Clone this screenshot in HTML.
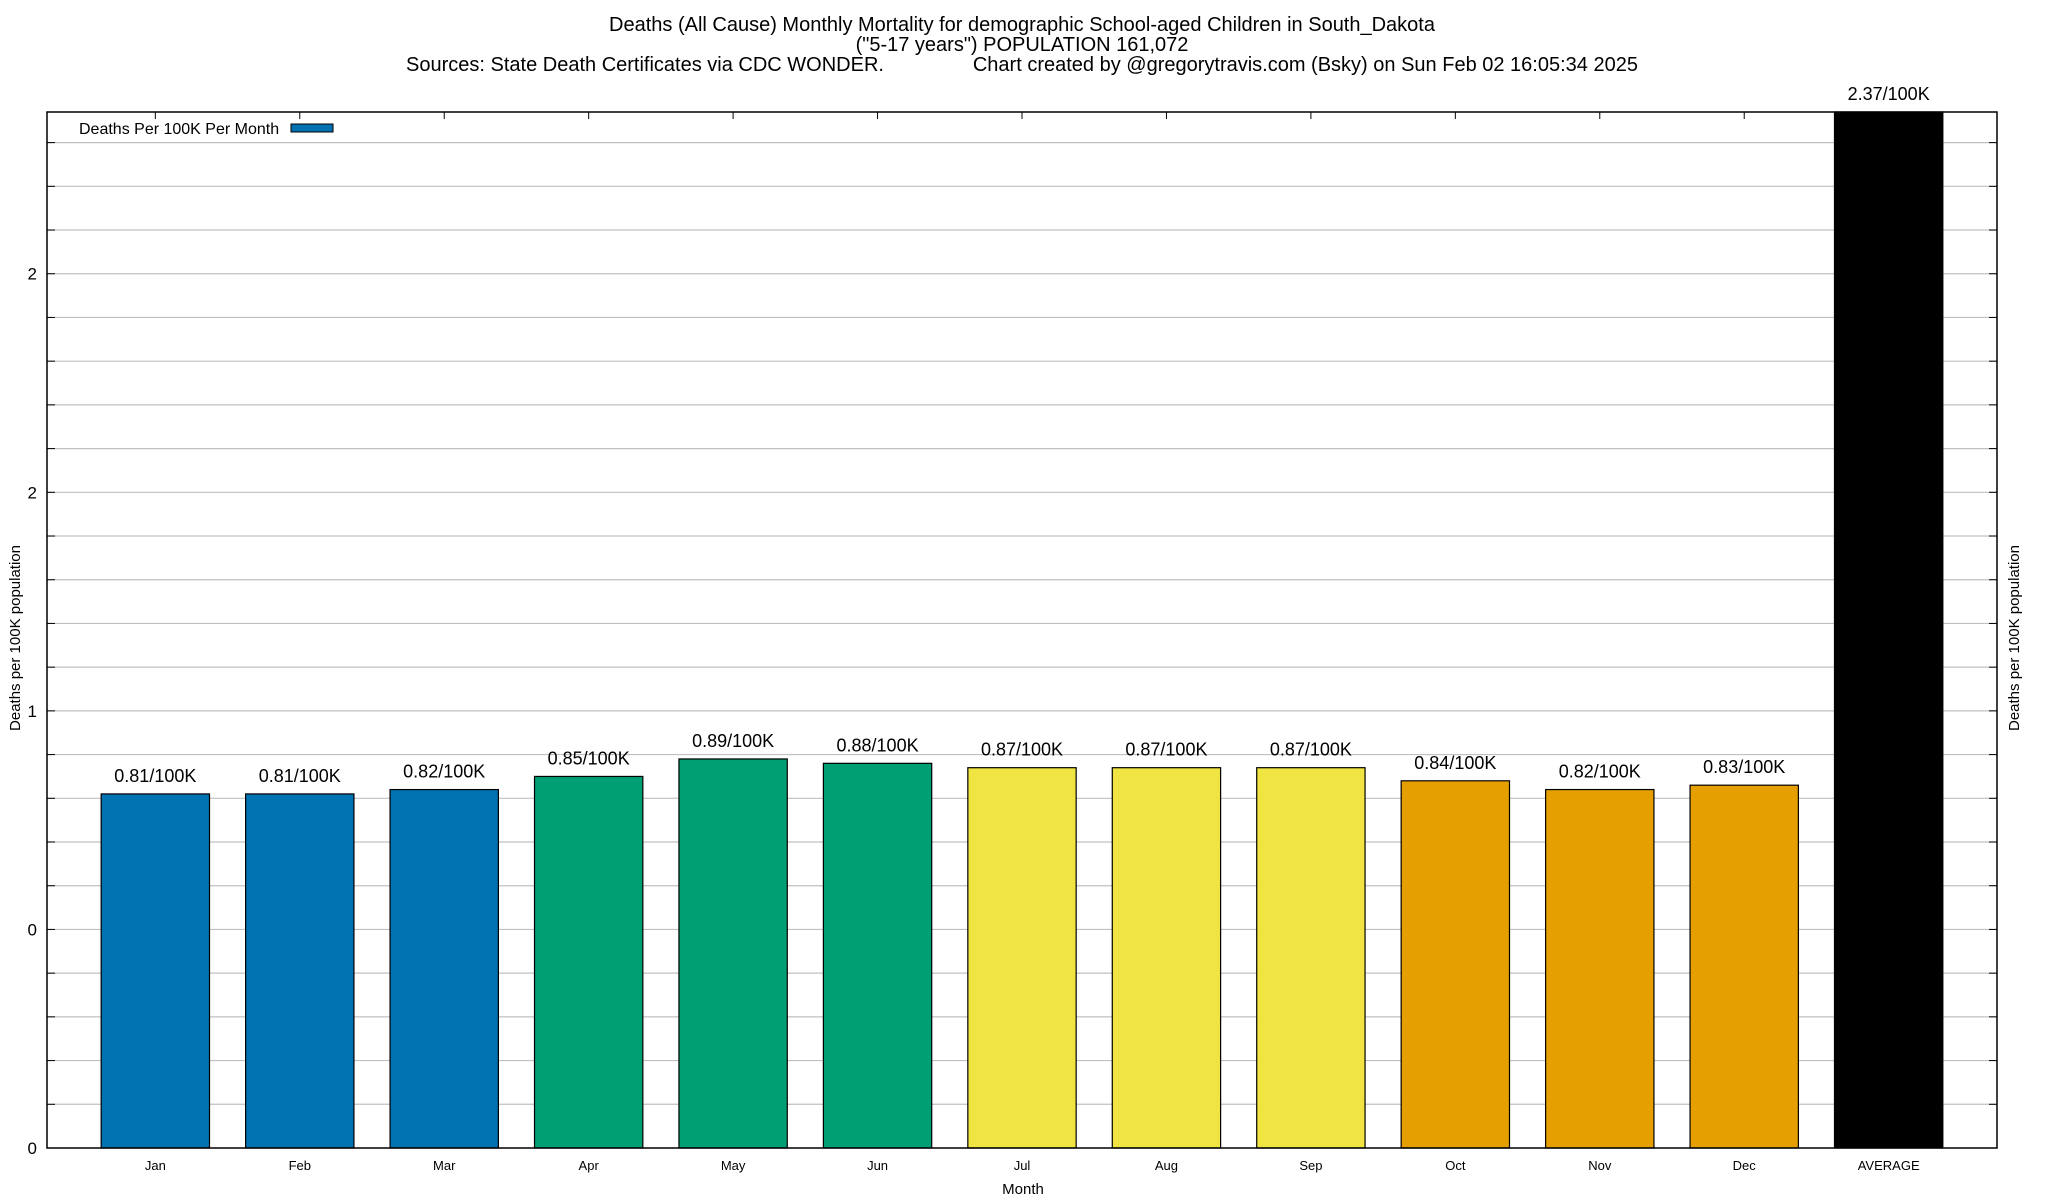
<!DOCTYPE html>
<html><head><meta charset="utf-8"><style>
html,body{margin:0;padding:0;background:#fff;}
svg{display:block;font-family:"Liberation Sans",Arial,sans-serif;}
</style></head><body>
<svg id="chart" width="2048" height="1200" viewBox="0 0 2048 1200" xmlns="http://www.w3.org/2000/svg">
<g font-size="20" text-anchor="middle" fill="#000">
<text x="1022" y="31">Deaths (All Cause) Monthly Mortality for demographic School-aged Children in South_Dakota</text>
<text x="1022" y="51">("5-17 years") POPULATION 161,072</text>
<text x="1022" y="71" xml:space="preserve">Sources: State Death Certificates via CDC WONDER.                Chart created by @gregorytravis.com (Bsky) on Sun Feb 02 16:05:34 2025</text>
</g>
<g id="grid"></g>
<g id="bars"></g>
<g id="axes"></g>
<text x="20" y="638" font-size="15" text-anchor="middle" transform="rotate(-90 20 638)">Deaths per 100K population</text>
<text x="2019" y="638" font-size="15" text-anchor="middle" transform="rotate(-90 2019 638)">Deaths per 100K population</text>
<text x="1023" y="1194" font-size="15" text-anchor="middle">Month</text>
<g>
<text x="79" y="134" font-size="16">Deaths Per 100K Per Month</text>
<rect x="291" y="124" width="42" height="8" fill="#0072b2" stroke="#000" stroke-width="1"/>
</g>
</svg>
<script>
const categories = ["Jan","Feb","Mar","Apr","May","Jun","Jul","Aug","Sep","Oct","Nov","Dec","AVERAGE"];
const values = [0.81,0.81,0.82,0.85,0.89,0.88,0.87,0.87,0.87,0.84,0.82,0.83,2.37];
const barLabels = ["0.81/100K","0.81/100K","0.82/100K","0.85/100K","0.89/100K","0.88/100K","0.87/100K","0.87/100K","0.87/100K","0.84/100K","0.82/100K","0.83/100K","2.37/100K"];
const barColors = ["#0072b2","#0072b2","#0072b2","#009e73","#009e73","#009e73","#f0e442","#f0e442","#f0e442","#e69f00","#e69f00","#e69f00","#000000"];
const yTickValues = [0,0.5,1,1.5,2];
const yTickLabels = ["0","0","1","2","2"];

const NS="http://www.w3.org/2000/svg";
const L=47,R=1997,T=112,B=1148,YMAX=2.37;
const X0=-0.75,X1=12.75;
function xs(i){return L+(i-X0)/(X1-X0)*(R-L);}
function ys(v){return B-v/YMAX*(B-T);}
function mk(tag,attrs,parent){const e=document.createElementNS(NS,tag);for(const k in attrs)e.setAttribute(k,attrs[k]);parent.appendChild(e);return e;}
const grid=document.getElementById('grid'),bars=document.getElementById('bars'),axes=document.getElementById('axes');
for(let k=1;k*0.1<=YMAX+1e-9;k++){
  const y=ys(k*0.1);
  const g=mk('line',{x1:L,x2:R,y1:y,y2:y,stroke:'#c0c0c0','stroke-width':1.2},grid);
  
  
  const t1=mk('line',{x1:L,x2:L+8,y1:y,y2:y,stroke:'#000','stroke-width':1},axes);
  
  
  const t2=mk('line',{x1:R-8,x2:R,y1:y,y2:y,stroke:'#000','stroke-width':1},axes);
  
  
}
const bw=0.75;
categories.forEach((c,i)=>{
  const x=xs(i-bw/2),w=xs(i+bw/2)-x,y=ys(values[i]);
  const r=mk('rect',{x:x,y:y,width:w,height:B-y,fill:barColors[i],stroke:'#000','stroke-width':1.2},bars);
  
  
  const lt=mk('text',{x:xs(i),y:y-12,'font-size':18,'text-anchor':'middle'},bars);
  lt.textContent=barLabels[i];
  
  
  const xt=mk('text',{x:xs(i),y:1170,'font-size':13,'text-anchor':'middle'},axes);
  xt.textContent=c;
  
  
  const tk=mk('line',{x1:xs(i),x2:xs(i),y1:T,y2:T+7,stroke:'#000','stroke-width':1},axes);
  
  
});
yTickValues.forEach((v,i)=>{
  const t=mk('text',{x:37,y:ys(v)+6,'font-size':17,'text-anchor':'end'},axes);
  t.textContent=yTickLabels[i];
  
  
});
const frame=mk('rect',{x:L,y:T,width:R-L,height:B-T,fill:'none',stroke:'#000','stroke-width':1.5},axes);


</script>
</body></html>
